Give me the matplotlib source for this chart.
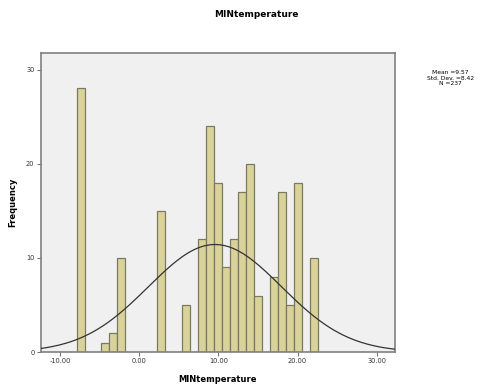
import numpy as np
import matplotlib
matplotlib.use("Agg")
import matplotlib.pyplot as plt

# Histogram bins (centres) and their counts
bin_centers = [-7.37, -4.32, -3.30, -2.29, 2.80, 5.85, 7.89, 8.90, 9.92, 10.94,
               11.95, 12.97, 13.99, 15.00, 17.04, 18.05, 19.07, 20.09, 22.12]
counts = [28, 1, 2, 10, 15, 5, 12, 24, 18, 9, 12, 17, 20, 6, 8, 17, 5, 18, 10]
bin_width = 1.017

mean = 9.57
std_dev = 8.42
n_total = 237

x_ticks = [-10, 0, 10, 20, 30]
x_ticklabels = ['-10.00', '0.00', '10.00', '20.00', '30.00']
y_ticks = [0, 10, 20, 30]

fig = plt.figure(figsize=(4.93, 3.91), dpi=100)
ax = fig.add_axes([0.0826, 0.0997, 0.7184, 0.7657])
ax.set_facecolor('#f0f0f0')

ax.bar(bin_centers, counts, width=bin_width, color='#d9d39a',
       edgecolor='#7a7a62', linewidth=0.9, zorder=2)

# fitted normal curve
xs = np.linspace(-12.5, 32.5, 300)
ys = n_total * bin_width / (std_dev * np.sqrt(2 * np.pi)) * np.exp(-0.5 * ((xs - mean) / std_dev) ** 2)
ax.plot(xs, ys, color='#333333', linewidth=0.9, zorder=3)

ax.set_xlim(-12.45, 32.3)
ax.set_ylim(0, 31.8)
ax.set_xticks(x_ticks)
ax.set_xticklabels(x_ticklabels, fontsize=4.8, color='#333333')
ax.set_yticks(y_ticks)
ax.set_yticklabels([str(v) for v in y_ticks], fontsize=4.8, color='#333333')
ax.tick_params(length=3, width=0.6, colors='#555555', labelcolor='#333333', pad=1.5)
for s in ax.spines.values():
    s.set_color('#808080')
    s.set_linewidth(1.2)

ax.set_xlabel('MINtemperature', fontsize=6, fontweight='bold', labelpad=8)
ax.set_ylabel('Frequency', fontsize=6, fontweight='bold', labelpad=6)
fig.text(0.52, 0.962, 'MINtemperature', fontsize=6.5, fontweight='bold',
         ha='center', va='center')

fig.text(0.913, 0.80, 'Mean =%.2f\nStd. Dev. =%.2f\nN =%d' % (mean, std_dev, n_total),
         fontsize=4.3, ha='center', va='center', linespacing=1.1)

fig.savefig('out.png', dpi=100)
